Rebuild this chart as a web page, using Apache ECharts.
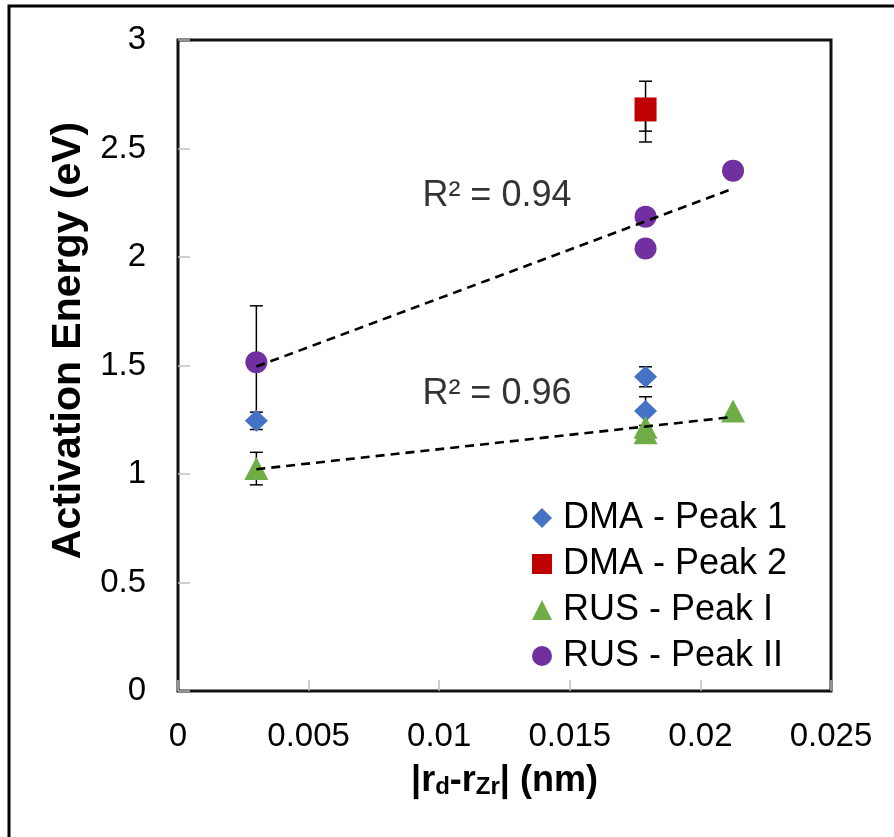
<!DOCTYPE html>
<html>
<head>
<meta charset="utf-8">
<script src="https://cdn.jsdelivr.net/npm/echarts@6/dist/echarts.min.js"></script>
<style>html,body{margin:0;padding:0;background:#fff}#c{width:894px;height:837px}</style>
</head>
<body>
<div id="c"></div>
<script>
// ---- data ----
const xTicks = [0, 0.005, 0.01, 0.015, 0.02, 0.025];
const yTicks = [0, 0.5, 1, 1.5, 2, 2.5, 3];

const dmaPeak1X = [0.003, 0.0179, 0.0179];
const dmaPeak1Y = [1.245, 1.448, 1.29];

const dmaPeak2X = [0.0179];
const dmaPeak2Y = [2.68];

const rusPeak1X = [0.003, 0.0179, 0.0179, 0.02125];
const rusPeak1Y = [1.025, 1.215, 1.19, 1.29];

const rusPeak2X = [0.003, 0.0179, 0.0179, 0.02125];
const rusPeak2Y = [1.515, 2.186, 2.039, 2.398];

// error bars: x, low, high
const errX    = [0.003, 0.003, 0.003, 0.0179, 0.0179, 0.0179, 0.0179];
const errLow  = [1.205, 1.255, 0.95,  1.402,  1.224,  2.53,   2.58];
const errHigh = [1.285, 1.775, 1.10,  1.494,  1.356,  2.81,   2.68];

// trendline end points
const trendUpperX = [0.003, 0.02125];
const trendUpperY = [1.495, 2.315];
const trendLowerX = [0.003, 0.02125];
const trendLowerY = [1.022, 1.263];

const r2Labels = ['R\u00b2 = 0.94', 'R\u00b2 = 0.96'];
const r2X = [0.01221, 0.01221];
const r2Y = [2.279, 1.37];

const seriesNames = ['DMA - Peak 1', 'DMA - Peak 2', 'RUS - Peak I', 'RUS - Peak II'];
const colors = ['#4472C4', '#C00000', '#70AD47', '#7030A0'];

const mainFont = "'Liberation Sans', Arial, sans-serif";

const zip = (xs, ys) => xs.map((x, i) => [x, ys[i]]);

const chart = echarts.init(document.getElementById('c'));
chart.setOption({
  animation: false,
  backgroundColor: '#fff',
  graphic: [{
    type: 'rect', shape: {x: 9, y: 6, width: 1000, height: 1000},
    style: {fill: 'none', stroke: '#000', lineWidth: 3}, silent: true, z: 100
  }],
  grid: {
    left: 178, top: 40, width: 653, height: 651,
    show: true, borderColor: '#111', borderWidth: 3, backgroundColor: 'transparent'
  },
  xAxis: {
    type: 'value', min: 0, max: 0.025, interval: 0.005,
    axisLine: {show: false},
    axisTick: {show: true, inside: true, length: 11, lineStyle: {color: '#BFBFBF', width: 1.5}},
    splitLine: {show: false},
    axisLabel: {
      margin: 29, color: '#000', fontFamily: mainFont, fontSize: 33,
      formatter: v => { const t = xTicks.find(t => Math.abs(t - v) < 1e-9); return t === undefined ? '' : String(t); }
    },
    name: '{b||r}{s|d}{b|-r}{s|Zr}{b|| (nm)}',
    nameLocation: 'middle', nameGap: 72,
    nameTextStyle: {
      rich: {
        b: {fontFamily: mainFont, fontWeight: 'bold', fontSize: 36, lineHeight: 36, verticalAlign: 'top', color: '#000'},
        s: {fontFamily: mainFont, fontWeight: 'bold', fontSize: 24, lineHeight: 24, verticalAlign: 'bottom', color: '#000'}
      },
      lineHeight: 45
    }
  },
  yAxis: {
    type: 'value', min: 0, max: 3, interval: 0.5,
    axisLine: {show: false},
    axisTick: {show: true, inside: true, length: 12, lineStyle: {color: '#BFBFBF', width: 1.5}},
    splitLine: {show: false},
    axisLabel: {
      margin: 32, color: '#000', fontFamily: mainFont, fontSize: 33,
      formatter: v => { const t = yTicks.find(t => Math.abs(t - v) < 1e-9); return t === undefined ? '' : String(t); }
    },
    name: 'Activation Energy (eV)',
    nameLocation: 'middle', nameGap: 76,
    nameTextStyle: {
      fontFamily: mainFont, fontWeight: 'bold', fontSize: 41, color: '#000',
      padding: [0, 0, 0, 50]
    }
  },
  legend: {
    orient: 'vertical', left: 532, top: 500, padding: 0,
    itemWidth: 20, itemHeight: 20, itemGap: 10,
    textStyle: {fontFamily: mainFont, fontSize: 36, lineHeight: 36, color: '#000', padding: [0, 0, 0, 6]},
    data: [
      {name: seriesNames[0], icon: 'diamond'},
      {name: seriesNames[1], icon: 'rect'},
      {name: seriesNames[2], icon: 'triangle'},
      {name: seriesNames[3], icon: 'circle'}
    ]
  },
  series: [
    {
      type: 'custom', name: 'errors', silent: true, z: 1,
      data: errX.map((x, i) => [x, errLow[i], errHigh[i]]),
      encode: {x: 0, y: [1, 2]},
      renderItem: (params, api) => {
        const x = api.value(0), lo = api.value(1), hi = api.value(2);
        const a = api.coord([x, lo]), b = api.coord([x, hi]);
        const hw = 6.5;
        const st = {stroke: '#000', lineWidth: 1.5};
        return {type: 'group', children: [
          {type: 'line', shape: {x1: a[0], y1: a[1], x2: b[0], y2: b[1]}, style: st},
          {type: 'line', shape: {x1: a[0] - hw, y1: a[1], x2: a[0] + hw, y2: a[1]}, style: st},
          {type: 'line', shape: {x1: b[0] - hw, y1: b[1], x2: b[0] + hw, y2: b[1]}, style: st}
        ]};
      }
    },
    {type: 'scatter', name: seriesNames[0], symbol: 'diamond', symbolSize: [23, 22], z: 2,
     itemStyle: {color: colors[0], opacity: 1}, data: zip(dmaPeak1X, dmaPeak1Y)},
    {type: 'scatter', name: seriesNames[1], symbol: 'rect', symbolSize: [22, 24], z: 2,
     itemStyle: {color: colors[1], opacity: 1}, data: zip(dmaPeak2X, dmaPeak2Y)},
    {type: 'scatter', name: seriesNames[2], symbol: 'triangle', symbolSize: [24, 23], z: 2,
     itemStyle: {color: colors[2], opacity: 1}, data: zip(rusPeak1X, rusPeak1Y)},
    {type: 'scatter', name: seriesNames[3], symbol: 'circle', symbolSize: 22, z: 2,
     itemStyle: {color: colors[3], opacity: 1}, data: zip(rusPeak2X, rusPeak2Y)},
    {type: 'line', name: 'trendUpper', symbol: 'none', silent: true, z: 3,
     lineStyle: {color: '#000', width: 2.6, type: [9, 6]}, data: zip(trendUpperX, trendUpperY)},
    {type: 'line', name: 'trendLower', symbol: 'none', silent: true, z: 3,
     lineStyle: {color: '#000', width: 2.6, type: [9, 6]}, data: zip(trendLowerX, trendLowerY)},
    {type: 'scatter', name: 'r2', silent: true, symbolSize: 1, z: 4,
     itemStyle: {color: 'rgba(0,0,0,0)'},
     label: {show: true, position: 'inside', fontFamily: mainFont, fontSize: 36, color: '#000',
             formatter: p => p.value[2]},
     data: r2X.map((x, i) => [x, r2Y[i], r2Labels[i]])}
  ]
});
</script>
</body>
</html>
